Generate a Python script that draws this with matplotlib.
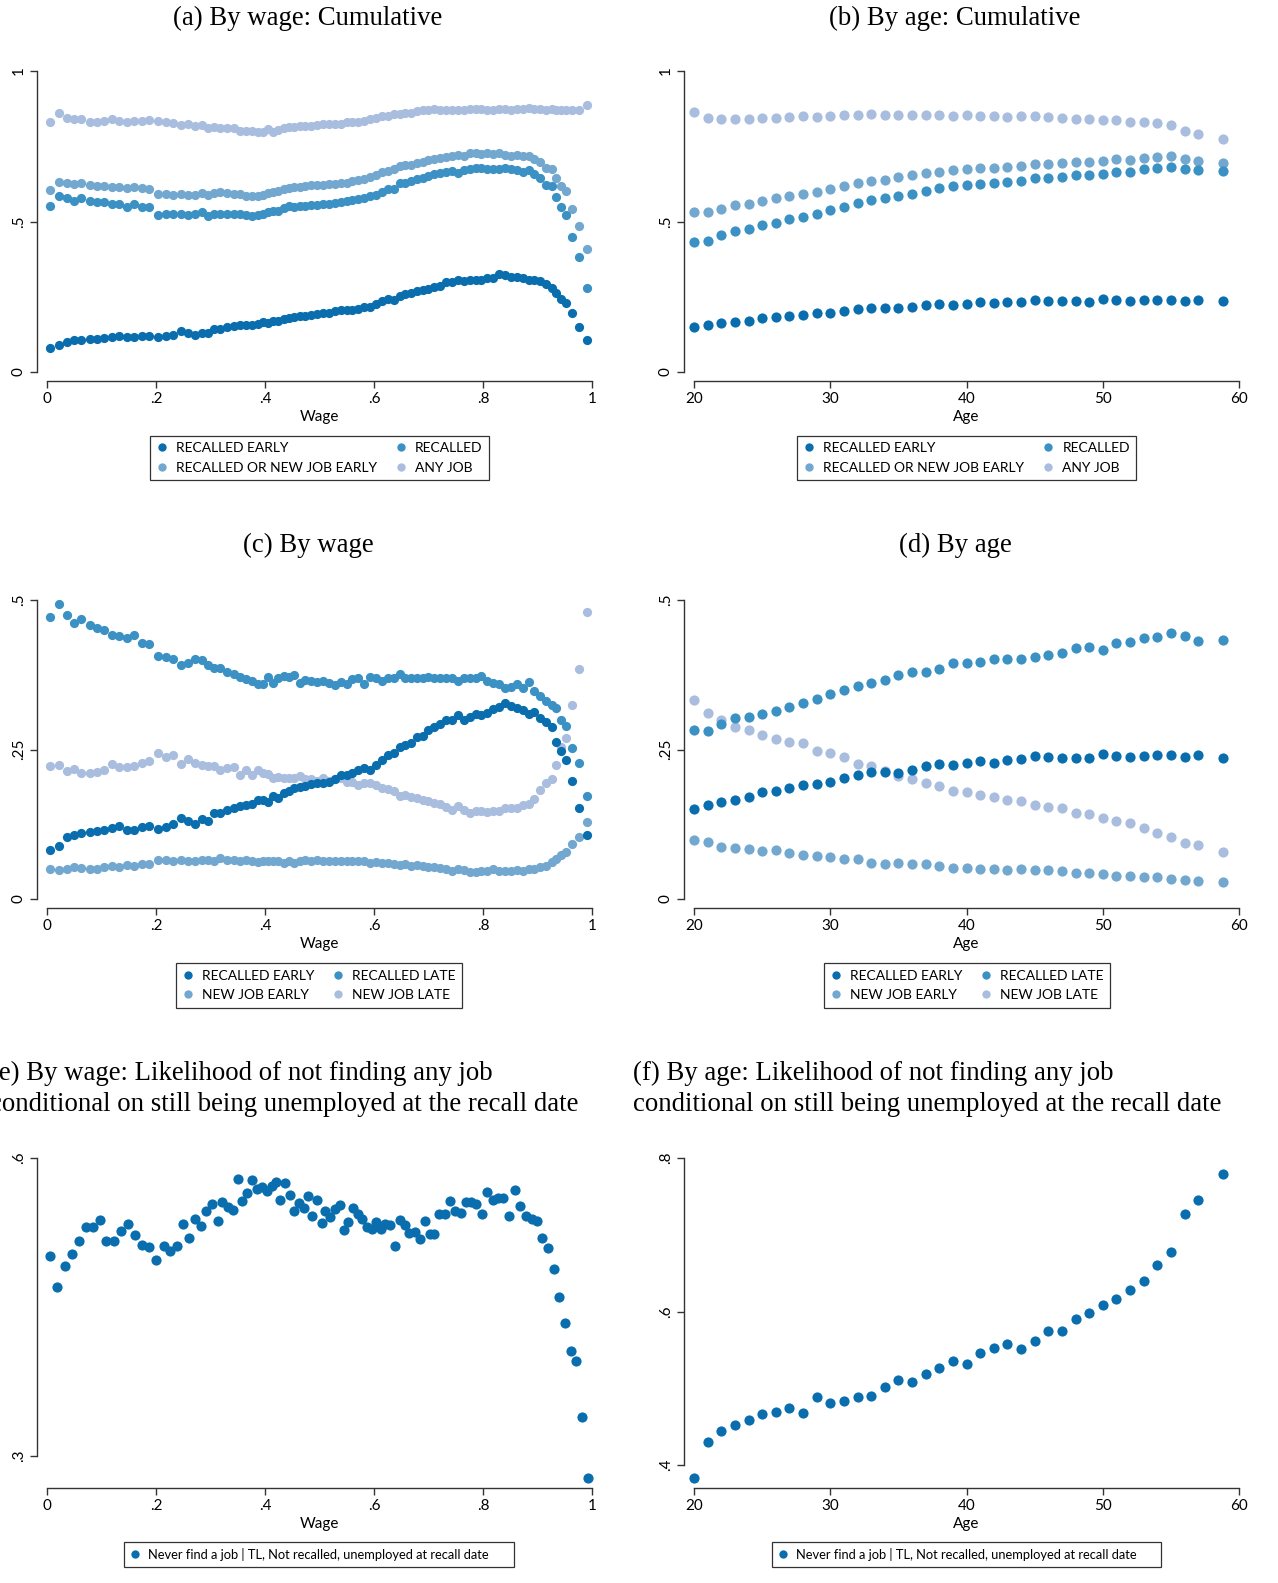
import matplotlib
matplotlib.use("Agg")
import matplotlib.pyplot as plt
from matplotlib.lines import Line2D

# ---------------------------------------------------------------------------
# data
# ---------------------------------------------------------------------------

# wage grid shared by panels (a) and (c)
wage = [0.006, 0.022, 0.036, 0.050, 0.063, 0.078, 0.091, 0.104, 0.119, 0.133,
        0.146, 0.159, 0.174, 0.188, 0.204, 0.218, 0.232, 0.246, 0.259, 0.271,
        0.284, 0.295, 0.307, 0.318, 0.330, 0.343, 0.354, 0.366, 0.377, 0.388,
        0.397, 0.406, 0.415, 0.424, 0.434, 0.444, 0.454, 0.464, 0.474, 0.485,
        0.496, 0.507, 0.517, 0.528, 0.539, 0.550, 0.560, 0.571, 0.582, 0.593,
        0.603, 0.614, 0.625, 0.636, 0.647, 0.657, 0.668, 0.679, 0.690, 0.700,
        0.711, 0.722, 0.733, 0.744, 0.754, 0.765, 0.776, 0.787, 0.797, 0.808,
        0.819, 0.830, 0.841, 0.851, 0.862, 0.873, 0.884, 0.894, 0.905, 0.916,
        0.927, 0.934, 0.944, 0.953, 0.964, 0.977, 0.991]

# (a) cumulative, by wage
a_recalled_early = [0.080, 0.089, 0.100, 0.105, 0.107, 0.108, 0.111, 0.113, 0.116, 0.121,
                    0.116, 0.116, 0.119, 0.120, 0.116, 0.121, 0.124, 0.135, 0.129, 0.122,
                    0.131, 0.129, 0.142, 0.144, 0.149, 0.152, 0.155, 0.156, 0.157, 0.161,
                    0.166, 0.163, 0.169, 0.171, 0.175, 0.180, 0.182, 0.185, 0.186, 0.191,
                    0.193, 0.196, 0.196, 0.202, 0.205, 0.207, 0.206, 0.210, 0.216, 0.217,
                    0.226, 0.235, 0.243, 0.238, 0.254, 0.259, 0.261, 0.268, 0.273, 0.276,
                    0.283, 0.287, 0.298, 0.300, 0.306, 0.301, 0.304, 0.306, 0.306, 0.312,
                    0.312, 0.325, 0.323, 0.317, 0.315, 0.312, 0.307, 0.306, 0.301, 0.292,
                    0.279, 0.262, 0.243, 0.229, 0.195, 0.151, 0.105]
a_recalled = [0.553, 0.585, 0.578, 0.567, 0.578, 0.567, 0.565, 0.565, 0.559, 0.558,
              0.548, 0.557, 0.547, 0.547, 0.521, 0.525, 0.525, 0.525, 0.523, 0.524,
              0.530, 0.519, 0.525, 0.526, 0.524, 0.525, 0.525, 0.521, 0.519, 0.521,
              0.526, 0.532, 0.534, 0.536, 0.545, 0.550, 0.547, 0.550, 0.553, 0.554,
              0.556, 0.557, 0.559, 0.562, 0.565, 0.567, 0.572, 0.576, 0.578, 0.585,
              0.589, 0.598, 0.607, 0.609, 0.627, 0.629, 0.633, 0.642, 0.644, 0.651,
              0.659, 0.662, 0.666, 0.667, 0.662, 0.671, 0.675, 0.677, 0.677, 0.675,
              0.675, 0.673, 0.677, 0.675, 0.670, 0.666, 0.670, 0.659, 0.645, 0.620,
              0.617, 0.580, 0.547, 0.521, 0.449, 0.381, 0.279]
a_recalled_or_new_early = [0.604, 0.631, 0.628, 0.624, 0.629, 0.620, 0.618, 0.617, 0.616, 0.613,
                           0.611, 0.615, 0.610, 0.607, 0.591, 0.590, 0.588, 0.591, 0.587, 0.587,
                           0.595, 0.587, 0.594, 0.598, 0.594, 0.593, 0.590, 0.585, 0.584, 0.586,
                           0.587, 0.596, 0.598, 0.600, 0.607, 0.611, 0.615, 0.615, 0.617, 0.620,
                           0.620, 0.622, 0.623, 0.624, 0.627, 0.629, 0.633, 0.637, 0.642, 0.648,
                           0.655, 0.664, 0.667, 0.673, 0.686, 0.688, 0.688, 0.695, 0.699, 0.704,
                           0.708, 0.710, 0.713, 0.717, 0.721, 0.719, 0.726, 0.726, 0.725, 0.726,
                           0.725, 0.728, 0.721, 0.719, 0.721, 0.717, 0.717, 0.708, 0.697, 0.677,
                           0.675, 0.646, 0.618, 0.600, 0.543, 0.486, 0.407]
a_any_job = [0.829, 0.859, 0.843, 0.840, 0.840, 0.831, 0.831, 0.834, 0.840, 0.834,
             0.831, 0.834, 0.834, 0.836, 0.834, 0.829, 0.828, 0.822, 0.825, 0.818,
             0.820, 0.809, 0.814, 0.812, 0.809, 0.809, 0.801, 0.801, 0.800, 0.798,
             0.798, 0.807, 0.796, 0.803, 0.809, 0.813, 0.815, 0.816, 0.816, 0.816,
             0.820, 0.824, 0.823, 0.825, 0.825, 0.829, 0.831, 0.831, 0.834, 0.840,
             0.844, 0.851, 0.851, 0.858, 0.858, 0.860, 0.862, 0.867, 0.869, 0.871,
             0.873, 0.871, 0.869, 0.869, 0.871, 0.871, 0.873, 0.873, 0.873, 0.871,
             0.871, 0.873, 0.873, 0.871, 0.873, 0.873, 0.876, 0.873, 0.873, 0.871,
             0.873, 0.871, 0.871, 0.870, 0.869, 0.870, 0.887]

# (c) by wage
c_recalled_early = [0.082, 0.089, 0.103, 0.107, 0.110, 0.112, 0.114, 0.115, 0.118, 0.122,
                    0.116, 0.116, 0.120, 0.122, 0.117, 0.121, 0.126, 0.136, 0.130, 0.125,
                    0.133, 0.130, 0.143, 0.143, 0.149, 0.152, 0.155, 0.157, 0.159, 0.166,
                    0.166, 0.162, 0.172, 0.169, 0.178, 0.181, 0.186, 0.187, 0.189, 0.192,
                    0.194, 0.194, 0.196, 0.200, 0.208, 0.207, 0.211, 0.216, 0.219, 0.216,
                    0.224, 0.233, 0.241, 0.244, 0.255, 0.258, 0.261, 0.271, 0.272, 0.282,
                    0.288, 0.293, 0.300, 0.300, 0.307, 0.300, 0.304, 0.309, 0.307, 0.311,
                    0.318, 0.321, 0.327, 0.323, 0.319, 0.316, 0.310, 0.313, 0.302, 0.296,
                    0.288, 0.263, 0.248, 0.233, 0.198, 0.153, 0.107]
c_recalled_late = [0.472, 0.493, 0.475, 0.461, 0.468, 0.458, 0.453, 0.450, 0.442, 0.439,
                   0.436, 0.441, 0.428, 0.426, 0.406, 0.405, 0.401, 0.392, 0.395, 0.401,
                   0.400, 0.391, 0.386, 0.386, 0.379, 0.377, 0.372, 0.368, 0.364, 0.359,
                   0.359, 0.371, 0.361, 0.370, 0.373, 0.372, 0.374, 0.361, 0.366, 0.365,
                   0.363, 0.365, 0.362, 0.358, 0.363, 0.359, 0.368, 0.370, 0.360, 0.372,
                   0.369, 0.364, 0.369, 0.370, 0.377, 0.369, 0.369, 0.370, 0.370, 0.372,
                   0.370, 0.370, 0.369, 0.369, 0.365, 0.370, 0.369, 0.370, 0.373, 0.365,
                   0.361, 0.359, 0.353, 0.354, 0.359, 0.353, 0.363, 0.347, 0.340, 0.331,
                   0.324, 0.320, 0.299, 0.289, 0.253, 0.228, 0.172]
c_new_job_early = [0.051, 0.049, 0.050, 0.053, 0.052, 0.051, 0.051, 0.053, 0.055, 0.053,
                   0.057, 0.055, 0.058, 0.058, 0.066, 0.066, 0.063, 0.066, 0.064, 0.064,
                   0.066, 0.066, 0.064, 0.069, 0.066, 0.066, 0.064, 0.066, 0.064, 0.062,
                   0.064, 0.064, 0.063, 0.063, 0.061, 0.064, 0.060, 0.064, 0.066, 0.064,
                   0.065, 0.063, 0.064, 0.063, 0.063, 0.063, 0.063, 0.063, 0.063, 0.061,
                   0.062, 0.061, 0.061, 0.059, 0.057, 0.058, 0.055, 0.057, 0.055, 0.053,
                   0.053, 0.052, 0.050, 0.047, 0.051, 0.049, 0.045, 0.045, 0.046, 0.046,
                   0.050, 0.047, 0.046, 0.047, 0.048, 0.047, 0.050, 0.051, 0.053, 0.056,
                   0.062, 0.067, 0.073, 0.079, 0.092, 0.103, 0.128]
c_new_job_late = [0.223, 0.224, 0.214, 0.218, 0.210, 0.211, 0.212, 0.216, 0.225, 0.221,
                  0.221, 0.222, 0.227, 0.230, 0.244, 0.238, 0.240, 0.226, 0.234, 0.227,
                  0.224, 0.223, 0.222, 0.215, 0.219, 0.221, 0.207, 0.216, 0.208, 0.215,
                  0.211, 0.209, 0.202, 0.204, 0.202, 0.203, 0.203, 0.205, 0.201, 0.200,
                  0.198, 0.202, 0.197, 0.201, 0.203, 0.196, 0.196, 0.190, 0.194, 0.194,
                  0.191, 0.186, 0.184, 0.180, 0.172, 0.174, 0.171, 0.169, 0.166, 0.164,
                  0.161, 0.159, 0.154, 0.149, 0.155, 0.148, 0.144, 0.147, 0.147, 0.146,
                  0.147, 0.147, 0.153, 0.152, 0.152, 0.157, 0.159, 0.168, 0.183, 0.194,
                  0.200, 0.224, 0.255, 0.270, 0.325, 0.385, 0.480]

# age grid shared by panels (b), (d), (f)
age = [20, 21, 22, 23, 24, 25, 26, 27, 28, 29, 30, 31, 32, 33, 34, 35, 36, 37, 38, 39,
       40, 41, 42, 43, 44, 45, 46, 47, 48, 49, 50, 51, 52, 53, 54, 55, 56, 57, 58.8]

# (b) cumulative, by age
b_recalled_early = [0.151, 0.157, 0.162, 0.165, 0.170, 0.179, 0.182, 0.187, 0.190, 0.195,
                    0.197, 0.202, 0.208, 0.213, 0.214, 0.212, 0.216, 0.222, 0.225, 0.223,
                    0.227, 0.231, 0.229, 0.233, 0.233, 0.238, 0.237, 0.235, 0.235, 0.233,
                    0.243, 0.238, 0.235, 0.238, 0.240, 0.240, 0.237, 0.240, 0.235]
b_recalled = [0.432, 0.436, 0.454, 0.467, 0.476, 0.487, 0.496, 0.507, 0.515, 0.526,
              0.537, 0.549, 0.563, 0.571, 0.579, 0.585, 0.593, 0.601, 0.610, 0.618,
              0.621, 0.625, 0.629, 0.632, 0.634, 0.643, 0.643, 0.647, 0.655, 0.655,
              0.659, 0.665, 0.664, 0.674, 0.678, 0.682, 0.675, 0.670, 0.667]
b_recalled_or_new_early = [0.531, 0.533, 0.542, 0.555, 0.559, 0.568, 0.577, 0.585, 0.591, 0.599,
                           0.608, 0.618, 0.629, 0.634, 0.638, 0.647, 0.655, 0.660, 0.665, 0.670,
                           0.674, 0.677, 0.679, 0.681, 0.686, 0.691, 0.692, 0.693, 0.698, 0.698,
                           0.702, 0.707, 0.704, 0.711, 0.714, 0.718, 0.709, 0.702, 0.696]
b_any_job = [0.863, 0.843, 0.841, 0.842, 0.842, 0.843, 0.845, 0.847, 0.851, 0.847,
             0.852, 0.854, 0.855, 0.856, 0.854, 0.854, 0.855, 0.855, 0.854, 0.852,
             0.854, 0.852, 0.849, 0.847, 0.849, 0.849, 0.846, 0.845, 0.842, 0.840,
             0.837, 0.836, 0.832, 0.831, 0.826, 0.821, 0.801, 0.792, 0.775]

# (d) by age
d_recalled_early = [0.150, 0.157, 0.162, 0.165, 0.171, 0.179, 0.181, 0.186, 0.190, 0.193,
                    0.196, 0.202, 0.207, 0.213, 0.213, 0.211, 0.216, 0.223, 0.225, 0.224,
                    0.227, 0.230, 0.228, 0.233, 0.234, 0.239, 0.238, 0.235, 0.236, 0.235,
                    0.243, 0.239, 0.237, 0.239, 0.241, 0.240, 0.238, 0.240, 0.235]
d_recalled_late = [0.282, 0.281, 0.293, 0.303, 0.305, 0.310, 0.315, 0.321, 0.328, 0.335,
                   0.342, 0.349, 0.356, 0.361, 0.366, 0.374, 0.379, 0.380, 0.385, 0.395,
                   0.395, 0.396, 0.401, 0.401, 0.402, 0.405, 0.408, 0.412, 0.420, 0.421,
                   0.417, 0.428, 0.429, 0.437, 0.438, 0.444, 0.439, 0.432, 0.433]
d_new_job_early = [0.098, 0.096, 0.087, 0.086, 0.083, 0.080, 0.082, 0.077, 0.073, 0.072,
                   0.070, 0.067, 0.067, 0.061, 0.059, 0.061, 0.059, 0.058, 0.055, 0.052,
                   0.052, 0.051, 0.051, 0.049, 0.050, 0.049, 0.048, 0.047, 0.043, 0.043,
                   0.041, 0.038, 0.039, 0.036, 0.036, 0.034, 0.031, 0.030, 0.028]
d_new_job_late = [0.332, 0.311, 0.299, 0.288, 0.283, 0.274, 0.268, 0.262, 0.261, 0.248,
                  0.244, 0.237, 0.225, 0.222, 0.214, 0.206, 0.201, 0.194, 0.189, 0.180,
                  0.179, 0.174, 0.170, 0.165, 0.164, 0.158, 0.154, 0.152, 0.144, 0.142,
                  0.135, 0.131, 0.127, 0.119, 0.111, 0.104, 0.093, 0.090, 0.078]

# (e) never find a job, by wage
e_wage = [0.005, 0.019, 0.033, 0.046, 0.059, 0.072, 0.085, 0.097, 0.109, 0.123,
          0.136, 0.148, 0.161, 0.174, 0.187, 0.200, 0.214, 0.226, 0.238, 0.249,
          0.261, 0.271, 0.282, 0.292, 0.302, 0.313, 0.322, 0.332, 0.341, 0.350,
          0.358, 0.367, 0.376, 0.385, 0.394, 0.403, 0.412, 0.420, 0.428, 0.437,
          0.445, 0.454, 0.463, 0.471, 0.478, 0.487, 0.496, 0.504, 0.511, 0.520,
          0.529, 0.537, 0.545, 0.553, 0.562, 0.570, 0.578, 0.587, 0.596, 0.604,
          0.612, 0.621, 0.630, 0.639, 0.647, 0.657, 0.665, 0.675, 0.684, 0.693,
          0.702, 0.711, 0.720, 0.731, 0.740, 0.749, 0.759, 0.769, 0.778, 0.788,
          0.798, 0.807, 0.818, 0.828, 0.837, 0.848, 0.858, 0.868, 0.878, 0.889,
          0.899, 0.909, 0.920, 0.930, 0.940, 0.950, 0.961, 0.970, 0.981, 0.993]
e_never_find = [0.501, 0.470, 0.491, 0.503, 0.516, 0.531, 0.531, 0.538, 0.516, 0.516,
                0.527, 0.534, 0.522, 0.512, 0.510, 0.497, 0.511, 0.506, 0.511, 0.534,
                0.519, 0.539, 0.532, 0.547, 0.554, 0.537, 0.556, 0.551, 0.548, 0.579,
                0.557, 0.565, 0.578, 0.569, 0.571, 0.567, 0.572, 0.576, 0.558, 0.575,
                0.563, 0.547, 0.555, 0.550, 0.562, 0.542, 0.558, 0.535, 0.547, 0.541,
                0.549, 0.553, 0.528, 0.536, 0.550, 0.544, 0.539, 0.531, 0.529, 0.536,
                0.529, 0.534, 0.533, 0.511, 0.538, 0.533, 0.524, 0.526, 0.518, 0.537,
                0.523, 0.523, 0.544, 0.544, 0.557, 0.547, 0.545, 0.556, 0.556, 0.554,
                0.544, 0.566, 0.558, 0.560, 0.560, 0.542, 0.568, 0.552, 0.542, 0.539,
                0.537, 0.519, 0.509, 0.488, 0.460, 0.434, 0.406, 0.396, 0.339, 0.278]

# (f) never find a job, by age
f_never_find = [0.383, 0.430, 0.444, 0.452, 0.458, 0.467, 0.469, 0.474, 0.468, 0.489,
                0.481, 0.484, 0.489, 0.490, 0.502, 0.511, 0.508, 0.519, 0.526, 0.536,
                0.531, 0.546, 0.552, 0.558, 0.551, 0.562, 0.574, 0.575, 0.590, 0.598,
                0.609, 0.616, 0.628, 0.640, 0.660, 0.678, 0.727, 0.745, 0.779]

# ---------------------------------------------------------------------------
# style
# ---------------------------------------------------------------------------
C1 = "#0a6eae"   # darkest
C2 = "#3b91c4"
C3 = "#72a7cf"
C4 = "#a9bddf"   # palest

SANS = ["Lato", "DejaVu Sans"]
SERIF = ["Liberation Serif", "DejaVu Serif"]
plt.rcParams["font.family"] = SANS

W, H = 1278, 1583
fig = plt.figure(figsize=(W / 100, H / 100), dpi=100)


def panel(box, xref, yref, xticks, xlabels, yticks, ylabels, xlabel):
    """box = (left, top, right, bottom) in pixels; refs map data values to pixels."""
    left, top, right, bottom = box
    ax = fig.add_axes([left / W, 1 - bottom / H, (right - left) / W, (bottom - top) / H])
    xv0, xp0, xv1, xp1 = xref
    sx = (xv1 - xv0) / (xp1 - xp0)
    ax.set_xlim(xv0 + (left - xp0) * sx, xv0 + (right - xp0) * sx)
    yv0, yp0, yv1, yp1 = yref
    sy = (yv1 - yv0) / (yp1 - yp0)
    ax.set_ylim(yv0 + (bottom - yp0) * sy, yv0 + (top - yp0) * sy)

    for s in ("top", "right"):
        ax.spines[s].set_visible(False)
    for s in ("left", "bottom"):
        ax.spines[s].set_linewidth(1.0)
        ax.spines[s].set_color("#333333")
    ax.spines["left"].set_bounds(yticks[0], yticks[-1])
    ax.spines["bottom"].set_bounds(xticks[0], xticks[-1])

    ax.set_xticks(xticks, xlabels)
    ax.set_yticks(yticks, ylabels)
    ax.tick_params(direction="out", length=5, width=1.0, color="#333333",
                   labelsize=11, pad=3)
    for t in ax.get_yticklabels():
        t.set_rotation(90)
        t.set_va("center")
    ax.set_xlabel(xlabel, fontsize=11, labelpad=3)
    ax.patch.set_alpha(0)
    return ax


def legend(handles, labels, box, ncol=2, size=10):
    left, top, right, bottom = box
    leg = fig.legend(handles, labels, loc="center", ncol=ncol, mode="expand",
                     bbox_to_anchor=(left / W, 1 - bottom / H, (right - left) / W, (bottom - top) / H),
                     frameon=True, fancybox=False, edgecolor="black", fontsize=size,
                     handlelength=0.8, handletextpad=0.6, borderpad=0.45,
                     labelspacing=0.55, borderaxespad=0)
    leg.get_frame().set_linewidth(0.9)
    return leg


def dot(color):
    return Line2D([], [], ls="", marker="o", ms=6, color=color, mec="none")


def title(x, y, text, ha="center"):
    fig.text(x / W, 1 - y / H, text, ha=ha, va="center", family=SERIF,
             fontsize=19.3, linespacing=1.34)


MS_WAGE = 44
MS_AGE = 54
wage_ticks = [0, 0.2, 0.4, 0.6, 0.8, 1]
wage_labels = ["0", ".2", ".4", ".6", ".8", "1"]
age_ticks = [20, 30, 40, 50, 60]
age_labels = ["20", "30", "40", "50", "60"]

# ---------------------------------------------------------------------------
# (a) By wage: Cumulative
# ---------------------------------------------------------------------------
ax = panel((37, 60, 602, 381), (0, 47, 1, 592), (0, 372, 1, 71),
           wage_ticks, wage_labels, [0, 0.5, 1], ["0", ".5", "1"], "Wage")
ax.scatter(wage, a_any_job, s=MS_WAGE, color=C4, lw=0)
ax.scatter(wage, a_recalled_or_new_early, s=MS_WAGE, color=C3, lw=0)
ax.scatter(wage, a_recalled, s=MS_WAGE, color=C2, lw=0)
ax.scatter(wage, a_recalled_early, s=MS_WAGE, color=C1, lw=0)
legend([dot(C1), dot(C3), dot(C2), dot(C4)],
       ["RECALLED EARLY", "RECALLED OR NEW JOB EARLY", "RECALLED", "ANY JOB"],
       (150, 436, 489, 480))
title(308, 18, "(a) By wage: Cumulative")

# ---------------------------------------------------------------------------
# (b) By age: Cumulative
# ---------------------------------------------------------------------------
ax = panel((684, 60, 1249, 381), (20, 694, 60, 1239), (0, 372, 1, 71),
           age_ticks, age_labels, [0, 0.5, 1], ["0", ".5", "1"], "Age")
ax.scatter(age, b_any_job, s=MS_AGE, color=C4, lw=0)
ax.scatter(age, b_recalled_or_new_early, s=MS_AGE, color=C3, lw=0)
ax.scatter(age, b_recalled, s=MS_AGE, color=C2, lw=0)
ax.scatter(age, b_recalled_early, s=MS_AGE, color=C1, lw=0)
legend([dot(C1), dot(C3), dot(C2), dot(C4)],
       ["RECALLED EARLY", "RECALLED OR NEW JOB EARLY", "RECALLED", "ANY JOB"],
       (797, 436, 1136, 480))
title(955, 18, "(b) By age: Cumulative")

# ---------------------------------------------------------------------------
# (c) By wage
# ---------------------------------------------------------------------------
ax = panel((37, 588, 602, 908), (0, 47, 1, 592), (0, 899, 0.5, 600),
           wage_ticks, wage_labels, [0, 0.25, 0.5], ["0", ".25", ".5"], "Wage")
ax.scatter(wage, c_new_job_late, s=MS_WAGE, color=C4, lw=0)
ax.scatter(wage, c_new_job_early, s=MS_WAGE, color=C3, lw=0)
ax.scatter(wage, c_recalled_late, s=MS_WAGE, color=C2, lw=0)
ax.scatter(wage, c_recalled_early, s=MS_WAGE, color=C1, lw=0)
legend([dot(C1), dot(C3), dot(C2), dot(C4)],
       ["RECALLED EARLY", "NEW JOB EARLY", "RECALLED LATE", "NEW JOB LATE"],
       (176, 964, 462, 1007))
title(308, 545, "(c) By wage")

# ---------------------------------------------------------------------------
# (d) By age
# ---------------------------------------------------------------------------
ax = panel((684, 588, 1249, 908), (20, 694, 60, 1239), (0, 899, 0.5, 600),
           age_ticks, age_labels, [0, 0.25, 0.5], ["0", ".25", ".5"], "Age")
ax.scatter(age, d_new_job_late, s=MS_AGE, color=C4, lw=0)
ax.scatter(age, d_new_job_early, s=MS_AGE, color=C3, lw=0)
ax.scatter(age, d_recalled_late, s=MS_AGE, color=C2, lw=0)
ax.scatter(age, d_recalled_early, s=MS_AGE, color=C1, lw=0)
legend([dot(C1), dot(C3), dot(C2), dot(C4)],
       ["RECALLED EARLY", "NEW JOB EARLY", "RECALLED LATE", "NEW JOB LATE"],
       (824, 964, 1110, 1007))
title(955, 545, "(d) By age")

# ---------------------------------------------------------------------------
# (e) / (f) Likelihood of not finding any job
# ---------------------------------------------------------------------------
never_label = "Never find a job | TL, Not recalled, unemployed at recall date"

ax = panel((37, 1146, 602, 1488), (0, 47, 1, 592), (0.3, 1456, 0.6, 1158),
           wage_ticks, wage_labels, [0.3, 0.6], [".3", ".6"], "Wage")
ax.scatter(e_wage, e_never_find, s=MS_AGE, color=C1, lw=0)
legend([dot(C1)], [never_label], (124, 1542, 514, 1567), ncol=1, size=9.3)
title(-10, 1089, "(e) By wage: Likelihood of not finding any job\n"
                 "conditional on still being unemployed at the recall date", ha="left")

ax = panel((684, 1146, 1249, 1488), (20, 694, 60, 1239), (0.4, 1465, 0.8, 1158),
           age_ticks, age_labels, [0.4, 0.6, 0.8], [".4", ".6", ".8"], "Age")
ax.scatter(age, f_never_find, s=MS_AGE, color=C1, lw=0)
legend([dot(C1)], [never_label], (772, 1542, 1161, 1567), ncol=1, size=9.3)
title(633, 1089, "(f) By age: Likelihood of not finding any job\n"
                 "conditional on still being unemployed at the recall date", ha="left")

fig.savefig("out.png", dpi=100)
